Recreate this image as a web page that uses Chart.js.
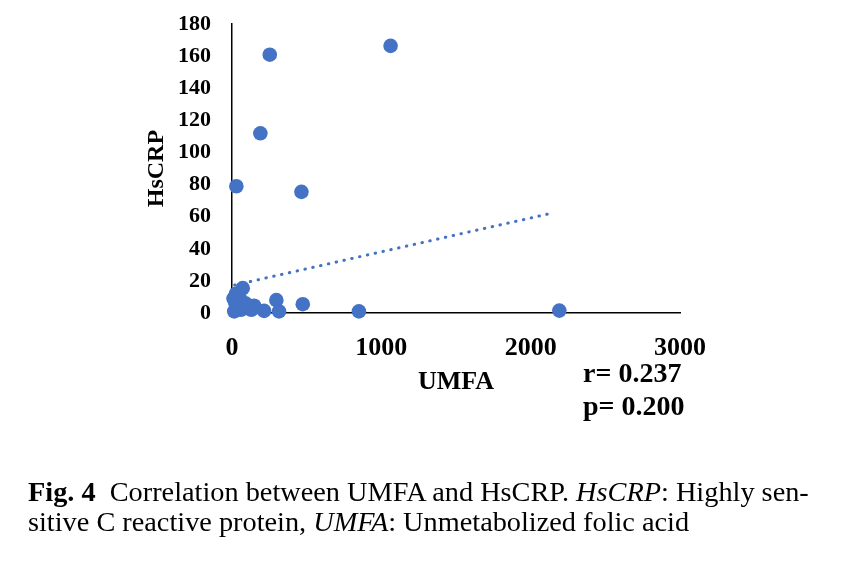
<!DOCTYPE html>
<html>
<head>
<meta charset="utf-8">
<script src="https://cdn.jsdelivr.net/npm/chart.js@4.4.0/dist/chart.umd.min.js"></script>
<style>
  html,body{margin:0;padding:0;background:#fff;}
  #wrap{position:relative;width:844px;height:566px;overflow:hidden;}
  #c{position:absolute;left:0;top:-10px;}
  .stat{position:absolute;left:583px;font:bold 28px "Liberation Serif","Times New Roman",serif;line-height:33px;color:#000;white-space:nowrap;}
  #cap{position:absolute;left:28px;top:477px;font:28.3px "Liberation Serif","Times New Roman",serif;line-height:30px;color:#000;white-space:nowrap;}
</style>
</head>
<body>
<div id="wrap">
  <canvas id="c" width="844" height="566"></canvas>
  <div class="stat" id="stats" style="top:356px">r= 0.237<br>p= 0.200</div>
  <div id="cap"><b>Fig. 4</b>&nbsp; Correlation between UMFA and HsCRP. <i>HsCRP</i>: Highly sen-<br>sitive C reactive protein, <i>UMFA</i>: Unmetabolized folic acid</div>
</div>
<script>
// UMFA (x) values
const umfa = [253, 1062, 190, 29, 465, 474, 850, 2192, 72, 27, 20, 15, 105, 148, 215, 297, 315, 40, 60, 10, 50, 130, 90];
// HsCRP (y) values
const hscrp = [161, 166.5, 112, 79, 75.5, 5.5, 1, 1.5, 15.5, 12, 7, 1, 3, 4.5, 1.3, 8, 1, 4, 2, 9, 10, 2, 6];
// linear trend line endpoints
const trendX = [18, 2145];
const trendY = [17.4, 62.3];
const xTicks = [0, 1000, 2000, 3000];
const yTicks = [0, 20, 40, 60, 80, 100, 120, 140, 160, 180];

const blue = '#4472C4';
const serif = '"Liberation Serif","Times New Roman",serif';

const points = umfa.map((x, i) => ({x: x, y: hscrp[i]}));
const trend = trendX.map((x, i) => ({x: x, y: trendY[i]}));

new Chart(document.getElementById('c'), {
  type: 'scatter',
  data: {
    datasets: [
      {
        label: 'HsCRP',
        data: points,
        backgroundColor: blue,
        borderColor: blue,
        pointRadius: 7.3,
        pointHoverRadius: 7.3,
        borderWidth: 0,
        clip: false,
        order: 0
      },
      {
        type: 'line',
        label: 'Trend',
        data: trend,
        borderColor: blue,
        borderWidth: 3,
        borderDash: [0.5, 7.5],
        borderCapStyle: 'round',
        pointRadius: 0,
        pointHoverRadius: 0,
        fill: false,
        clip: false,
        order: 1
      }
    ]
  },
  options: {
    responsive: false,
    animation: false,
    devicePixelRatio: 1,
    layout: {autoPadding: false, padding: {left: 0, right: 164, top: 23, bottom: 143}},
    plugins: {legend: {display: false}, tooltip: {enabled: false}},
    scales: {
      x: {
        type: 'linear',
        min: 0, max: 3000,
        afterFit: s => { s.height = 100; },
        afterBuildTicks: s => { s.ticks = xTicks.map(v => ({value: v})); },
        grid: {display: false, drawTicks: false},
        border: {display: true, color: '#000', width: 1.5},
        ticks: {color: '#000', padding: 20, callback: v => String(v), font: {family: serif, size: 26, weight: 'bold'}},
        title: {display: true, text: 'UMFA', color: '#000', padding: {top: 0, bottom: 15}, font: {family: serif, size: 26, weight: 'bold'}}
      },
      y: {
        type: 'linear',
        min: 0, max: 180,
        afterFit: s => { s.width = 232; },
        afterBuildTicks: s => { s.ticks = yTicks.map(v => ({value: v})); },
        grid: {display: false, drawTicks: false},
        border: {display: true, color: '#000', width: 1.5},
        ticks: {color: '#000', padding: 21, callback: v => String(v), font: {family: serif, size: 22, weight: 'bold'}},
        title: {display: true, text: 'HsCRP', color: '#000', padding: {top: 142, bottom: 0}, font: {family: serif, size: 24, weight: 'bold'}}
      }
    }
  }
});
</script>
</body>
</html>
